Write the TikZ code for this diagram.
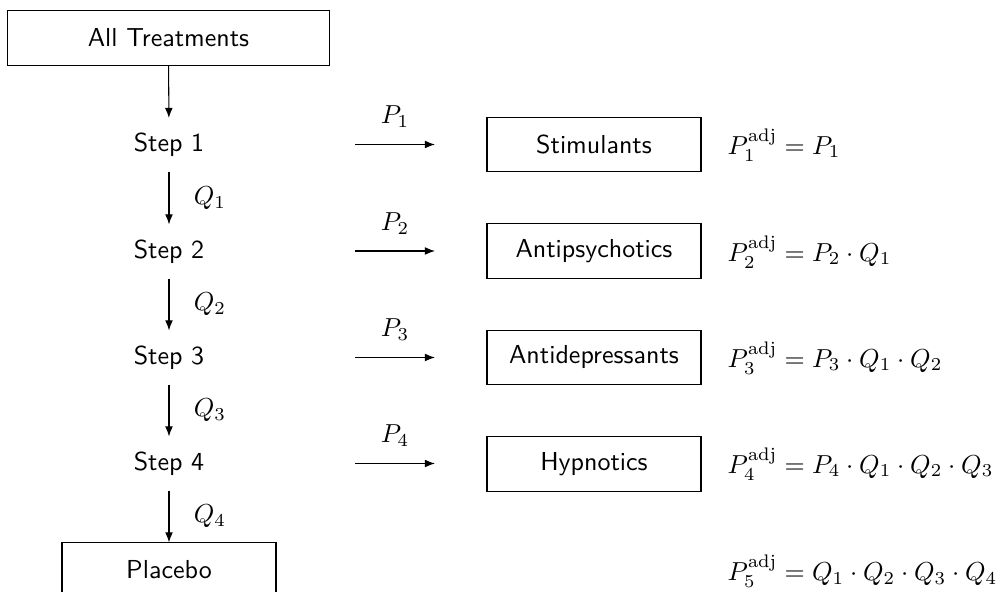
\documentclass[tikz,border=0pt]{standalone}
\usetikzlibrary{arrows.meta}
\begin{document}
\begin{tikzpicture}[x=0.3846pt,y=-0.3846pt,
  every node/.style={font=\sffamily},
  box/.style={draw, rectangle, minimum width=82.3pt, minimum height=20.8pt, inner sep=0pt},
  stepnode/.style={rectangle, minimum height=20.4pt, inner sep=0pt},
  arr/.style={-{Latex[length=3.9pt,width=3pt]}, thin},
  lbl/.style={font=\normalfont},
  formula/.style={anchor=west, inner sep=0pt, font=\normalfont}]
\useasboundingbox (0,0) rectangle (1002,592);
\node[box, minimum width=123.5pt] (all) at (168.5,38) {All Treatments};
\node[stepnode] (s1) at (169,145) {Step 1};
\node[stepnode] (s2) at (169,251.5) {Step 2};
\node[stepnode] (s3) at (169,357.5) {Step 3};
\node[stepnode] (s4) at (169,463.5) {Step 4};
\node[box] (pl) at (169,570) {Placebo};
\draw[arr] (all) -- (s1);
\draw[arr] (s1) -- node[right=6pt, lbl] {$Q_1$} (s2);
\draw[arr] (s2) -- node[right=6pt, lbl] {$Q_2$} (s3);
\draw[arr] (s3) -- node[right=6pt, lbl] {$Q_3$} (s4);
\draw[arr] (s4) -- node[right=6pt, lbl] {$Q_4$} (pl);
\node[box] (b1) at (594,144.5) {Stimulants};
\node[box] (b2) at (594,251) {Antipsychotics};
\node[box] (b3) at (594,357.5) {Antidepressants};
\node[box] (b4) at (594,464) {Hypnotics};
\foreach \i/\y in {1/144.5,2/251,3/357.5,4/463.5}{
  \coordinate (a\i) at (355,\y);
  \coordinate (e\i) at (435,\y);
  \draw[arr] (a\i) -- node[above=3pt, lbl] {$P_\i$} (e\i);
}
\node[formula] (f1) at (727,145) {$P_1^{\mathrm{adj}} = P_1$};
\node[formula] (f2) at (727,252) {$P_2^{\mathrm{adj}} = P_2\cdot Q_1$};
\node[formula] (f3) at (727,358) {$P_3^{\mathrm{adj}} = P_3\cdot Q_1\cdot Q_2$};
\node[formula] (f4) at (727,464) {$P_4^{\mathrm{adj}} = P_4\cdot Q_1\cdot Q_2\cdot Q_3$};
\node[formula] (f5) at (727,571) {$P_5^{\mathrm{adj}} = Q_1\cdot Q_2\cdot Q_3\cdot Q_4$};
\end{tikzpicture}
\end{document}
